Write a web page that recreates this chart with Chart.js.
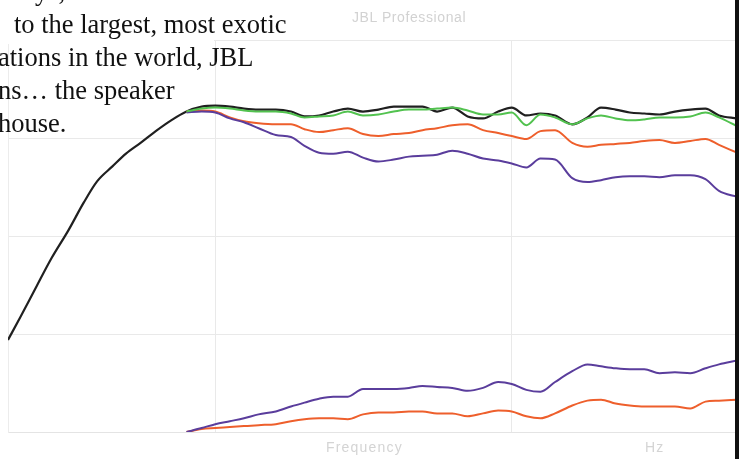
<!DOCTYPE html>
<html>
<head>
<meta charset="utf-8">
<script src="https://cdn.jsdelivr.net/npm/chart.js@4"></script>
<style>
  html, body { margin: 0; padding: 0; background: #fff; }
  #wrap { position: relative; width: 739px; height: 459px; overflow: hidden; }
  #c { position: absolute; left: 0; top: 0; }
  .copy { position: absolute; left: 0; font-family: "Liberation Serif", serif; font-size: 26.5px; line-height: 33px; color: #111; white-space: pre; }
  #mask { position: absolute; left: 0; top: 0; width: 214px; height: 44px; background: #fff; }
  #brand { position: absolute; left: 352px; top: 9px; font-family: "Liberation Sans", sans-serif; font-size: 14px; color: #d2d2d2; letter-spacing: 0.6px; }
  .axlab { position: absolute; top: 439px; font-family: "Liberation Sans", sans-serif; font-size: 14px; color: #d4d4d4; letter-spacing: 1.2px; }
  #edge { position: absolute; left: 735px; top: 0; width: 4px; height: 459px; background: #111; }
</style>
</head>
<body>
<div id="wrap">
  <canvas id="c" width="739" height="459"></canvas>
  <div id="mask"></div>
  <div class="copy" style="top:-25px;left:4px">ways, from the smallest</div>
  <div class="copy" style="top:8px;left:14px">to the largest, most exotic</div>
  <div class="copy" style="top:41px;left:-2px">ations in the world, JBL</div>
  <div class="copy" style="top:74px;left:-2px">ns… the speaker</div>
  <div class="copy" style="top:107px;left:-2px">house.</div>
  <div id="brand">JBL Professional</div>
  <div class="axlab" style="left:326px">Frequency</div>
  <div class="axlab" style="left:645px">Hz</div>
  <div id="edge"></div>
</div>
<script>
// frequency points (Hz) shared by every curve
const freqs = [20, 22, 25, 28, 32, 36, 40, 45, 50, 56, 63, 71, 80, 90, 100, 112, 125, 140, 160, 180,
  200, 224, 250, 280, 315, 355, 400, 450, 500, 560, 630, 710, 800, 900, 1000, 1120, 1250, 1400, 1600, 1800,
  2000, 2240, 2500, 2800, 3150, 3550, 4000, 4500, 5000, 5750];

// response in dB (null = no trace there)
const blackDb = [-30.6, -28.3, -25.1, -22.3, -19.4, -16.6, -14.4, -12.9, -11.6, -10.5, -9.3, -8.2, -7.3, -6.8, -6.7, -6.8, -7.0, -7.1, -7.1, -7.3,
  -7.8, -7.7, -7.3, -7.0, -7.3, -7.1, -6.8, -6.8, -6.8, -7.3, -6.9, -7.8, -8.0, -7.3, -6.9, -7.7, -7.5, -7.7, -8.6, -7.9,
  -6.9, -7.1, -7.4, -7.5, -7.6, -7.3, -7.1, -7.0, -7.7, -8.0];
const pad = [null, null, null, null, null, null, null, null, null, null, null, null];
const greenDb = pad.concat([-7.3, -7.0, -6.9, -7.0, -7.2, -7.3, -7.3, -7.5, -7.9, -7.8, -7.7, -7.3, -7.7, -7.6, -7.3, -7.1, -7.1, -7.0, -6.9, -7.2,
  -7.6, -7.6, -7.4, -8.7, -7.6, -7.9, -8.6, -8.0, -7.7, -8.0, -8.2, -8.1, -7.9, -7.9, -7.8, -7.4, -7.9, -8.8]);
const orangeDb = pad.concat([-7.3, -7.2, -7.3, -7.9, -8.3, -8.5, -8.6, -8.6, -9.1, -9.4, -9.2, -9.0, -9.6, -9.8, -9.6, -9.5, -9.2, -9.0, -8.7, -8.6,
  -9.2, -9.5, -9.8, -10.1, -9.3, -9.2, -10.5, -10.9, -10.7, -10.6, -10.5, -10.3, -10.2, -10.5, -10.3, -10.1, -10.7, -11.5]);
const purpleDb = pad.concat([-7.4, -7.3, -7.4, -8.0, -8.4, -9.0, -9.7, -9.9, -10.8, -11.5, -11.6, -11.4, -12.0, -12.4, -12.2, -11.9, -11.8, -11.7, -11.3, -11.6,
  -12.1, -12.3, -12.6, -13.0, -12.1, -12.2, -14.1, -14.5, -14.3, -14.0, -13.9, -13.9, -14.0, -13.8, -13.8, -14.2, -15.4, -16.0]);
const purpleLowDb = pad.concat([-40, -39.6, -39.2, -38.9, -38.6, -38.2, -37.9, -37.4, -37.0, -36.6, -36.4, -36.4, -35.6, -35.6, -35.6, -35.5, -35.3, -35.4, -35.5, -35.8,
  -35.5, -34.9, -35.1, -35.7, -35.9, -34.9, -33.8, -33.1, -33.3, -33.5, -33.6, -33.6, -34.0, -33.9, -34.0, -33.5, -33.1, -32.7]);
const orangeLowDb = pad.concat([-40, -39.7, -39.6, -39.5, -39.4, -39.3, -39.2, -38.9, -38.7, -38.6, -38.6, -38.7, -38.2, -38.0, -38.0, -37.9, -37.9, -38.1, -38.1, -38.4,
  -38.1, -37.8, -37.9, -38.4, -38.6, -38.1, -37.3, -36.8, -36.7, -37.1, -37.3, -37.4, -37.4, -37.4, -37.6, -36.9, -36.8, -36.7]);

const gridFreqs = [100, 1000];

function pts(vals) {
  return freqs.map((f, i) => ({ x: f, y: vals[i] })).filter(p => p.y !== null);
}

function trace(vals, color, width) {
  return {
    data: pts(vals),
    borderColor: color,
    borderWidth: width || 2,
    pointRadius: 0,
    cubicInterpolationMode: "monotone",
    fill: false,
  };
}

document.addEventListener("DOMContentLoaded", function () {
  const ctx = document.getElementById("c").getContext("2d");
  new Chart(ctx, {
    type: "line",
    data: {
      datasets: [
        trace(purpleLowDb, "#5a3d9c"),
        trace(orangeLowDb, "#ee5f2c"),
        trace(greenDb, "#52c24f"),
        trace(purpleDb, "#5a3d9c"),
        trace(orangeDb, "#ee5f2c"),
        trace(blackDb, "#202020", 2.2),
      ],
    },
    options: {
      responsive: false,
      animation: false,
      layout: { padding: { left: 8, right: 2, top: 40, bottom: 27 } },
      plugins: { legend: { display: false }, tooltip: { enabled: false } },
      scales: {
        x: {
          type: "logarithmic",
          min: 20,
          max: 5750,
          afterBuildTicks: (axis) => { axis.ticks = gridFreqs.map(v => ({ value: v })); },
          ticks: { display: false },
          grid: { color: "#e9e9e9", drawTicks: false },
          border: { color: "#e4e4e4" },
        },
        y: {
          min: -40,
          max: 0,
          ticks: { display: false, stepSize: 10 },
          grid: { color: "#e9e9e9", drawTicks: false },
          border: { color: "#ececec" },
        },
      },
    },
  });
});
</script>
</body>
</html>
